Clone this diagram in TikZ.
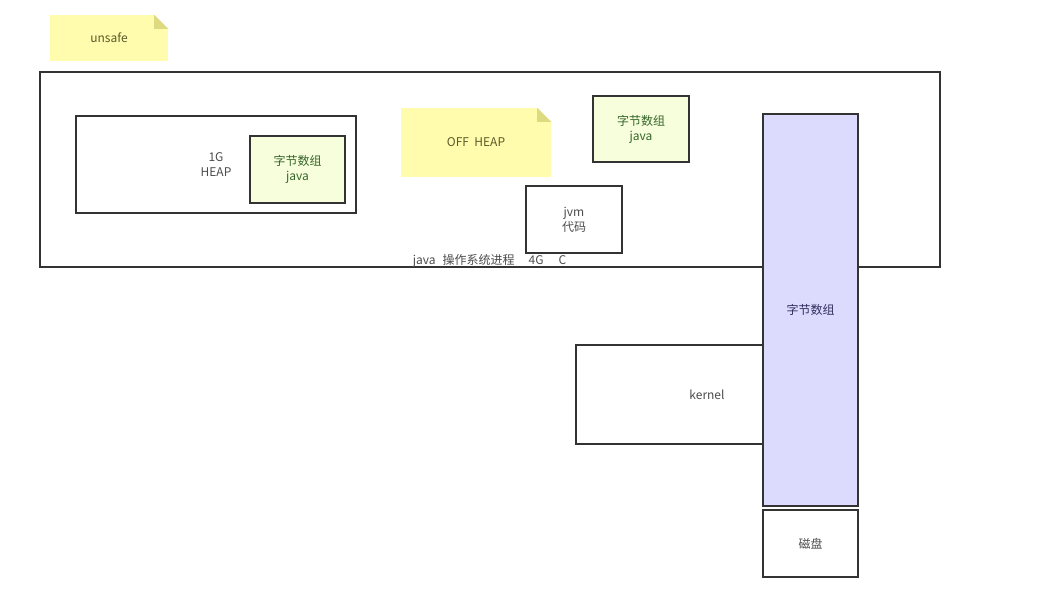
\documentclass[tikz,border=0pt]{standalone}
\usepackage{fontspec}
\setmainfont{Noto Sans CJK SC}
\usepackage{tikz}
\usetikzlibrary{calc,shapes}
\definecolor{notefill}{HTML}{FFFCAD}
\definecolor{notefold}{HTML}{DDDA80}
\definecolor{notetext}{HTML}{5A5A2A}
\definecolor{arrfill}{HTML}{F7FEDB}
\definecolor{arrtext}{HTML}{35652A}
\definecolor{buffill}{HTML}{DCDAFD}
\definecolor{buftext}{HTML}{2E2E5E}
\definecolor{edge}{HTML}{333333}
\tikzset{
   box/.style={draw=edge, line width=1.2pt, fill=white, text=black!70,
               font=\fontsize{12}{15}\selectfont, align=center, inner sep=0pt},
   note/.style={fill=notefill, text=notetext, font=\fontsize{12}{15}\selectfont,
                align=center, inner sep=0pt},
   arrbox/.style={box, fill=arrfill, text=arrtext},
   bufbox/.style={box, fill=buffill, text=buftext}
}
\begin{document}
\begin{tikzpicture}[x=1pt,y=-1pt]
  \useasboundingbox (0,0) rectangle (1038,609);
  \node (unsafe) [note, minimum width=118pt, minimum height=46pt] at (109,38) {unsafe};
  \node (proc) [box, minimum width=900pt, minimum height=195pt] at (490,169.5) {};
  \node (proclbl) [text=black!70, font=\fontsize{12}{15}\selectfont, inner sep=0pt] at (489.5,261)
        {java\hspace{7pt}操作系统进程\hspace{14pt}4G\hspace{15pt}C};
  \node (heap) [box, minimum width=280pt, minimum height=97pt] at (216,164.5) {1G\\HEAP};
  \node (arr1) [arrbox, minimum width=95pt, minimum height=67pt] at (297.5,169.5) {字节数组\\java};
  \node (offheap) [note, minimum width=150pt, minimum height=69pt] at (476,142.5) {OFF\ \ HEAP};
  \node (arr2) [arrbox, minimum width=96pt, minimum height=66pt] at (641,129) {字节数组\\java};
  \node (jvm) [box, minimum width=96pt, minimum height=67pt] at (574,219.5) {jvm\\代码};
  \node (kernel) [box, minimum width=187pt, minimum height=99pt,
        label={[xshift=37.5pt, text=black!70, font=\fontsize{12}{15}\selectfont]center:kernel}] at (669.5,394.5) {};
  \node (buf) [bufbox, minimum width=95pt, minimum height=392pt] at (810.5,310) {字节数组};
  \node (disk) [box, minimum width=95pt, minimum height=67pt] at (810.5,543.5) {磁盘};
  % folded corners of the notes
  \foreach \n in {unsafe,offheap} {
    \fill[white] (\n.north east) -- ++(-14,0) -- ++(14,14) -- cycle;
    \fill[notefold] ($(\n.north east)+(-14,0)$) -- ++(14,14) -- ++(-14,0) -- cycle;
  }
\end{tikzpicture}
\end{document}
